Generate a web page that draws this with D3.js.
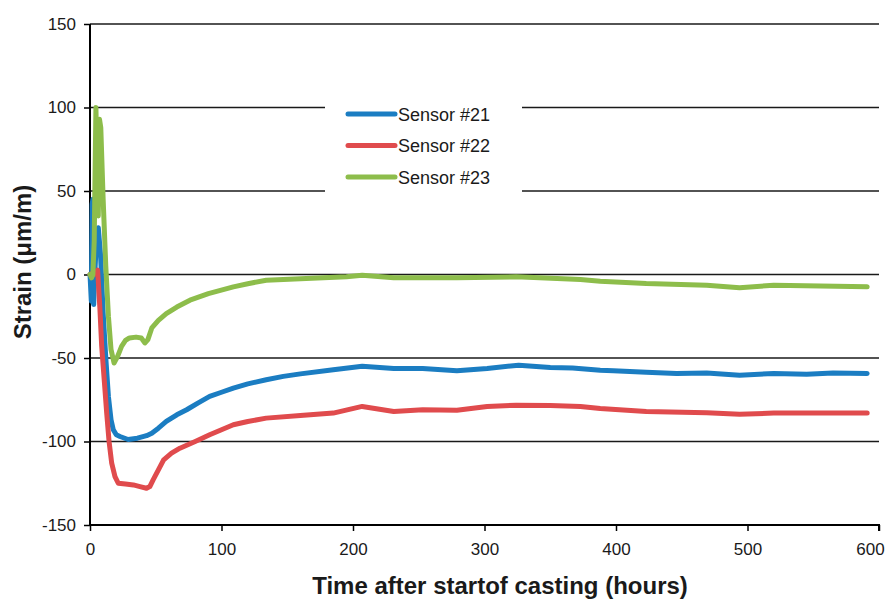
<!DOCTYPE html>
<html>
<head>
<meta charset="utf-8">
<script src="https://cdn.jsdelivr.net/npm/d3@7"></script>
<style>
  body { margin: 0; background: #fff; }
  svg { display: block; font-family: "Liberation Sans", Arial, sans-serif; }
</style>
</head>
<body>
<div id="chart"></div>
<script>
// hours after start of casting, strain in micro-strain (µm/m)
let s21Time = [0, 1, 1.6, 2.2, 2.8, 3.3, 5, 6.3, 8, 10, 12, 14, 16, 17.7, 20, 22.8, 29, 36, 43, 47, 52, 58, 66, 73.5, 82, 91, 100, 109, 120, 134, 147, 160, 185, 207, 231, 253, 279, 302, 326, 350, 367, 388, 398, 423, 446, 469, 494, 520, 545, 565, 591];
let s21Strain = [0, -16, 42, 45, -18, -5, 22, 28, 12, -23, -50, -73, -87, -93, -96, -97, -98.8, -98, -96.5, -95, -92, -88, -84, -81, -77, -73, -70.5, -68, -65.5, -63, -61, -59.5, -57, -55, -56.3, -56.3, -57.7, -56.3, -54.3, -55.7, -56, -57.3, -57.7, -58.5, -59.3, -59, -60.3, -59.3, -59.7, -59, -59.3];

let s22Time = [0, 1, 3, 5.8, 7.5, 8.9, 11, 12.7, 14.5, 16.5, 19, 21.5, 27, 33, 38, 43, 45.5, 48, 52, 56, 62, 68.4, 80, 91, 100, 109, 120, 134, 160, 185, 207, 231, 253, 279, 302, 324, 350, 373, 388, 423, 469, 494, 520, 591];
let s22Strain = [0, 0.5, 0, 2.6, -20, -43, -65, -83, -100, -113, -121, -125, -125.5, -126, -127, -128, -127, -123, -117, -111, -107, -104, -100, -96, -93, -90, -88, -86, -84.5, -83, -79, -82, -81, -81.3, -79, -78.3, -78.5, -79, -80.3, -82, -82.8, -83.7, -83, -83];

let s23Time = [0, 1.2, 2.2, 3.2, 4.5, 5.5, 6.3, 7.2, 8.2, 10, 12, 14, 16, 18.3, 21, 24, 27, 30, 35, 39, 41.8, 44, 47, 52, 58, 66, 76, 90, 109, 120, 134, 160, 195, 207, 231, 279, 324, 373, 388, 423, 469, 494, 520, 591];
let s23Strain = [0, -2, 0, 20, 100, 60, 35, 93, 88, 45, 5, -25, -45, -53, -49, -43, -39.5, -38, -37.5, -38, -41, -39, -32, -27.5, -23.4, -19.5, -15.4, -11.5, -7.4, -5.5, -3.4, -2.5, -1.4, -0.4, -2, -2, -1.4, -3, -4, -5.4, -6.4, -8, -6.4, -7.4];

let seriesNames = ['Sensor #21', 'Sensor #22', 'Sensor #23'];
let seriesColors = ['#1b7dc2', '#e04b4d', '#8dbd4b'];

let xTicks = [0, 100, 200, 300, 400, 500, 600];
let yTicks = [-150, -100, -50, 0, 50, 100, 150];

let width = 889, height = 601,
  margin = {top: 24, right: 10, bottom: 76, left: 90},
  plotW = 879 - margin.left,
  plotH = 525 - margin.top;

let svg = d3.select('#chart').append('svg')
  .attr('width', width)
  .attr('height', height);

let g = svg.append('g')
  .attr('transform', 'translate(' + margin.left + ',' + margin.top + ')');

let xScale = d3.scaleLinear().domain([0, 600]).range([0, plotW]);
let yScale = d3.scaleLinear().domain([-150, 150]).range([plotH, 0]);

// horizontal grid lines
g.append('g')
  .selectAll('line')
  .data(yTicks.filter((d) => d !== -150))
  .enter()
  .append('line')
  .attr('x1', 0)
  .attr('x2', plotW)
  .attr('y1', (d) => yScale(d))
  .attr('y2', (d) => yScale(d))
  .attr('stroke', '#1a1a1a')
  .attr('stroke-width', 1.5);

// axes (plain hyphen for negatives, like the original)
let fmt = (d) => String(d);

let xAxis = g.append('g')
  .attr('transform', 'translate(0,' + plotH + ')')
  .call(d3.axisBottom(xScale).tickValues(xTicks).tickFormat(fmt).tickSize(6).tickPadding(12));

let yAxis = g.append('g')
  .call(d3.axisLeft(yScale).tickValues(yTicks).tickFormat(fmt).tickSize(6).tickPadding(8));

[xAxis, yAxis].forEach((ax) => {
  ax.select('.domain').attr('stroke', '#000').attr('stroke-width', 2);
  ax.selectAll('.tick line').attr('stroke', '#000').attr('stroke-width', 1.5);
  ax.selectAll('.tick text')
    .attr('fill', '#1a1a1a')
    .style('font-size', '17px')
    .style('font-family', '"Liberation Sans", Arial, sans-serif');
});
// keep the last x label inside the picture
xAxis.selectAll('.tick text').filter((d) => d === 600).attr('dx', -9);
yAxis.select('.domain').attr('d', 'M0,' + plotH + 'V0');
xAxis.select('.domain').attr('d', 'M0,0H' + plotW + 'V6');

// series
let series = [
  {name: seriesNames[0], color: seriesColors[0], t: s21Time, v: s21Strain},
  {name: seriesNames[1], color: seriesColors[1], t: s22Time, v: s22Strain},
  {name: seriesNames[2], color: seriesColors[2], t: s23Time, v: s23Strain},
];

let line = d3.line()
  .x((d) => xScale(d[0]))
  .y((d) => yScale(d[1]));

g.append('g')
  .selectAll('path')
  .data(series)
  .enter()
  .append('path')
  .attr('d', (s) => line(d3.zip(s.t, s.v)))
  .attr('fill', 'none')
  .attr('stroke', (s) => s.color)
  .attr('stroke-width', 5)
  .attr('stroke-linejoin', 'round')
  .attr('stroke-linecap', 'round');

// legend with white background over the grid
let legend = svg.append('g').attr('transform', 'translate(325,96)');
legend.append('rect')
  .attr('width', 197)
  .attr('height', 100)
  .attr('fill', '#fff');

let item = legend.selectAll('.item')
  .data(series)
  .enter()
  .append('g')
  .attr('transform', (d, i) => 'translate(0,' + (18 + i * 31.5) + ')');

item.append('line')
  .attr('x1', 23)
  .attr('x2', 70)
  .attr('stroke', (d) => d.color)
  .attr('stroke-width', 5)
  .attr('stroke-linecap', 'round');

item.append('text')
  .attr('x', 73)
  .attr('y', 6.5)
  .attr('fill', '#1a1a1a')
  .style('font-size', '18px')
  .text((d) => d.name);

// axis titles
svg.append('text')
  .attr('x', 500)
  .attr('y', 594)
  .attr('text-anchor', 'middle')
  .style('font-size', '24px')
  .style('font-weight', 'bold')
  .attr('fill', '#1a1a1a')
  .text('Time after startof casting (hours)');

svg.append('text')
  .attr('transform', 'translate(31,262) rotate(-90)')
  .attr('text-anchor', 'middle')
  .style('font-size', '24px')
  .style('font-weight', 'bold')
  .attr('fill', '#1a1a1a')
  .text('Strain (μm/m)');
</script>
</body>
</html>
